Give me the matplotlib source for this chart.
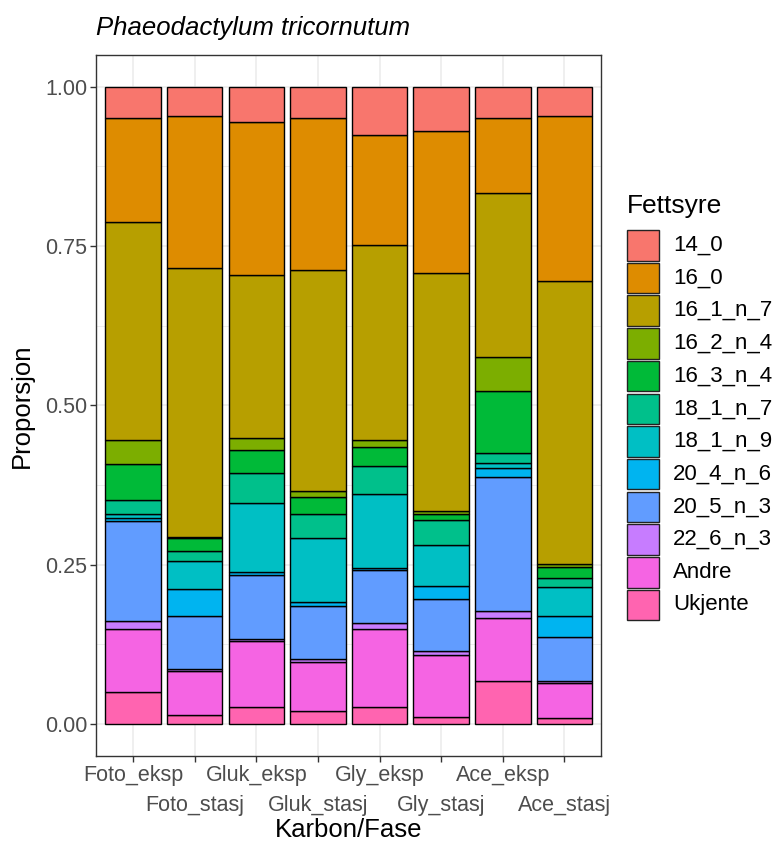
import numpy as np
import matplotlib
matplotlib.use("Agg")
import matplotlib.pyplot as plt
from matplotlib.patches import Rectangle

plt.rcParams["font.family"] = ["Liberation Sans", "DejaVu Sans"]

# Carbon source / growth phase
groups = ["Foto_eksp", "Foto_stasj", "Gluk_eksp", "Gluk_stasj",
          "Gly_eksp", "Gly_stasj", "Ace_eksp", "Ace_stasj"]

# Fatty-acid proportions per group (legend order, top of stack first)
fa_14_0    = [0.049, 0.047, 0.056, 0.049, 0.076, 0.070, 0.049, 0.047]
fa_16_0    = [0.163, 0.238, 0.240, 0.239, 0.173, 0.222, 0.118, 0.258]
fa_16_1_n7 = [0.343, 0.423, 0.256, 0.347, 0.306, 0.374, 0.258, 0.445]
fa_16_2_n4 = [0.037, 0.001, 0.018, 0.009, 0.011, 0.004, 0.052, 0.005]
fa_16_3_n4 = [0.056, 0.020, 0.036, 0.027, 0.029, 0.010, 0.098, 0.016]
fa_18_1_n7 = [0.022, 0.016, 0.047, 0.037, 0.044, 0.039, 0.016, 0.015]
fa_18_1_n9 = [0.006, 0.044, 0.109, 0.100, 0.116, 0.065, 0.008, 0.045]
fa_20_4_n6 = [0.006, 0.042, 0.004, 0.007, 0.003, 0.020, 0.014, 0.033]
fa_20_5_n3 = [0.157, 0.083, 0.100, 0.083, 0.084, 0.082, 0.210, 0.069]
fa_22_6_n3 = [0.012, 0.003, 0.004, 0.004, 0.009, 0.005, 0.010, 0.003]
andre      = [0.098, 0.070, 0.103, 0.078, 0.122, 0.098, 0.100, 0.056]
ukjente    = [0.051, 0.014, 0.027, 0.020, 0.027, 0.011, 0.067, 0.009]

fatty_acids = ["14_0", "16_0", "16_1_n_7", "16_2_n_4", "16_3_n_4", "18_1_n_7",
               "18_1_n_9", "20_4_n_6", "20_5_n_3", "22_6_n_3", "Andre", "Ukjente"]
series = [fa_14_0, fa_16_0, fa_16_1_n7, fa_16_2_n4, fa_16_3_n4, fa_18_1_n7,
          fa_18_1_n9, fa_20_4_n6, fa_20_5_n3, fa_22_6_n3, andre, ukjente]

colors = ["#F8766D", "#DE8C00", "#B79F00", "#7CAE00", "#00BA38", "#00C08B",
          "#00BFC4", "#00B4F0", "#619CFF", "#C77CFF", "#F564E3", "#FF64B0"]

vals = np.array(series, dtype=float)
vals = vals / vals.sum(axis=0)  # fill to proportions

W, H = 777, 843
fig = plt.figure(figsize=(W / 100, H / 100), dpi=100)
ax = fig.add_axes([0.1236, 0.1032, 0.6505, 0.8320])

x = np.arange(1, len(groups) + 1)
bottom = np.zeros(len(groups))
# stack from the last level upwards so the first level sits on top
for i in range(len(fatty_acids) - 1, -1, -1):
    ax.bar(x, vals[i], width=0.9, bottom=bottom, color=colors[i],
           edgecolor="black", linewidth=1.0, zorder=3)
    bottom += vals[i]

ax.set_xlim(0.4, len(groups) + 0.6)
ax.set_ylim(-0.05, 1.05)

ax.set_yticks([0, 0.25, 0.5, 0.75, 1.0])
ax.set_yticklabels(["0.00", "0.25", "0.50", "0.75", "1.00"])
ax.set_yticks([0.125, 0.375, 0.625, 0.875], minor=True)
ax.set_xticks(x)
ax.set_xticklabels(groups)

ax.grid(True, which="major", color="#EBEBEB", linewidth=1.1, zorder=0)
ax.grid(True, which="minor", axis="y", color="#EBEBEB", linewidth=0.6, zorder=0)
ax.set_axisbelow(True)
for s in ax.spines.values():
    s.set_color("#333333")
    s.set_linewidth(1.0)
ax.tick_params(axis="both", which="major", colors="#333333", length=4.5, width=1.0,
               labelsize=15.5, labelcolor="#4D4D4D", pad=2)
ax.tick_params(axis="both", which="minor", length=0)

# dodge the category labels onto two rows
for k, tick in enumerate(ax.xaxis.get_major_ticks()):
    tick.set_pad(2 if k % 2 == 0 else 23.5)

ax.set_xlabel("Karbon/Fase", fontsize=18.5, color="black", labelpad=1.5)
ax.set_ylabel("Proporsjon", fontsize=18.5, color="black", labelpad=8)
ax.set_title("Phaeodactylum tricornutum", fontsize=18.5, style="italic",
             loc="left", pad=14)

# legend: title plus one key per fatty acid
def fx(px):
    return px / W

def fy(py):
    return 1 - py / H

fig.text(fx(627), fy(213), "Fettsyre", fontsize=19, va="baseline", ha="left")
key_w, key_h, step = 31.5, 30.5, 32.7
for k, (name, c) in enumerate(zip(fatty_acids, colors)):
    top = 230 + k * step
    fig.add_artist(Rectangle((fx(627), fy(top + key_h)), key_w / W, key_h / H,
                             transform=fig.transFigure, facecolor=c,
                             edgecolor="#222222", linewidth=1.0))
    fig.text(fx(673), fy(top + key_h / 2), name, fontsize=16,
             va="center", ha="left")

fig.savefig("out.png", dpi=100)
